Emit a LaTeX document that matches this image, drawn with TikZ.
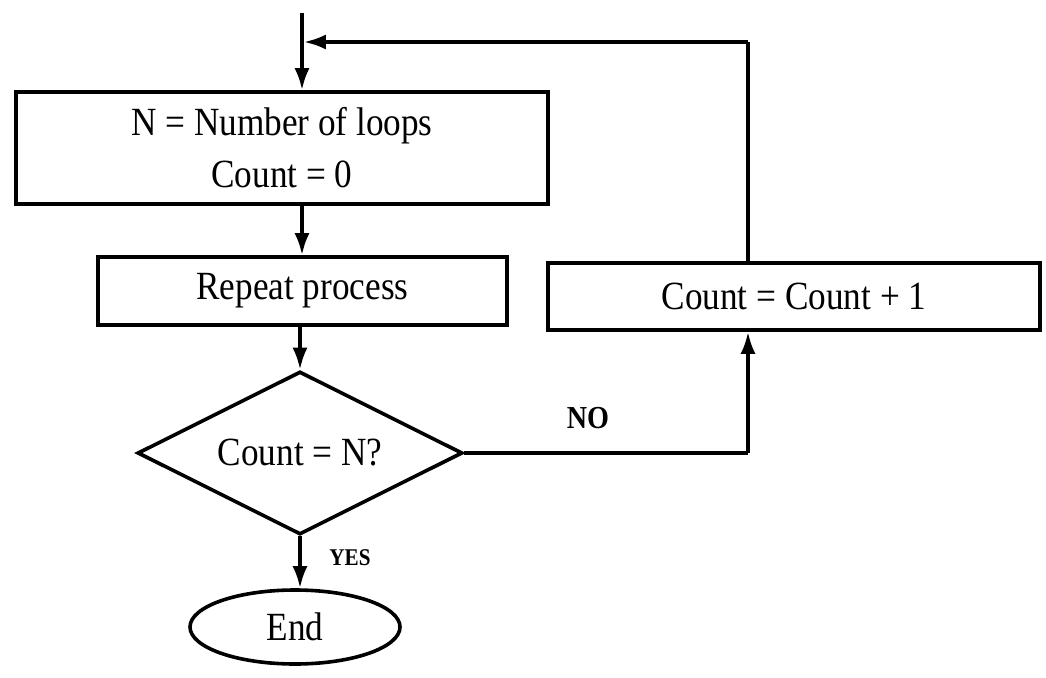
\documentclass[tikz,border=0pt]{standalone}
\usepackage{fontspec}
\setmainfont{Liberation Serif}[FakeStretch=0.88]
\usetikzlibrary{shapes.geometric,arrows.meta,calc}
\begin{document}
\begin{tikzpicture}[x=1pt,y=-1pt,
  every node/.style={font=\fontsize{40}{52}\selectfont},
  procbox/.style={draw, line width=3.6pt, rectangle, inner sep=0pt, align=center},
  decbox/.style={draw, line width=3.6pt, diamond, shape aspect=2, inner sep=0pt, minimum width=325pt, minimum height=163pt},
  termbox/.style={draw, line width=3.6pt, ellipse, inner sep=0pt, minimum width=210pt, minimum height=74pt},
  flow/.style={line width=3.6pt, -{Latex[length=22pt,width=15pt]}},
  plain/.style={line width=3.6pt},
  lbl/.style={font=\bfseries\fontsize{#1}{#1}\selectfont, inner sep=0pt},
]
\useasboundingbox (0,0) rectangle (1046,677);
\fill[white] (0,0) rectangle (1046,677);

\node[procbox, minimum width=532pt, minimum height=112pt] (init) at (282,148) {N = Number of loops\\Count = 0};
\node[procbox, minimum width=409pt, minimum height=68pt] (rep) at (302.5,291) {Repeat process};
\node[procbox, minimum width=492pt, minimum height=67pt] (inc) at (794,296.5) {Count = Count + 1};
\node[decbox] (dec) at (300,453) {Count = N?};
\node[termbox] (end) at (295,627) {End};

\coordinate (start) at (302,13);
\coordinate (join) at (302,42);
\coordinate (tr) at (748,42);
\coordinate (br) at (748,453);

\draw[flow] (start) -- (start |- init.north);
\draw[flow] (init.south -| start) -- (rep.north -| start);
\draw[flow] (rep.south -| dec.north) -- (dec.north);
\draw[flow] (dec.south) -- (dec.south |- end.north);
\draw[plain] (dec.east) -- (br);
\draw[flow] (br) -- (br |- inc.south);
\draw[plain] (inc.north -| tr) -- (tr);
\draw[flow] (tr) -- ([xshift=1.8pt]join);

\node[lbl=32] (no) at (588,418) {NO};
\node[lbl=24] (yes) at (350,558) {YES};
\end{tikzpicture}
\end{document}
